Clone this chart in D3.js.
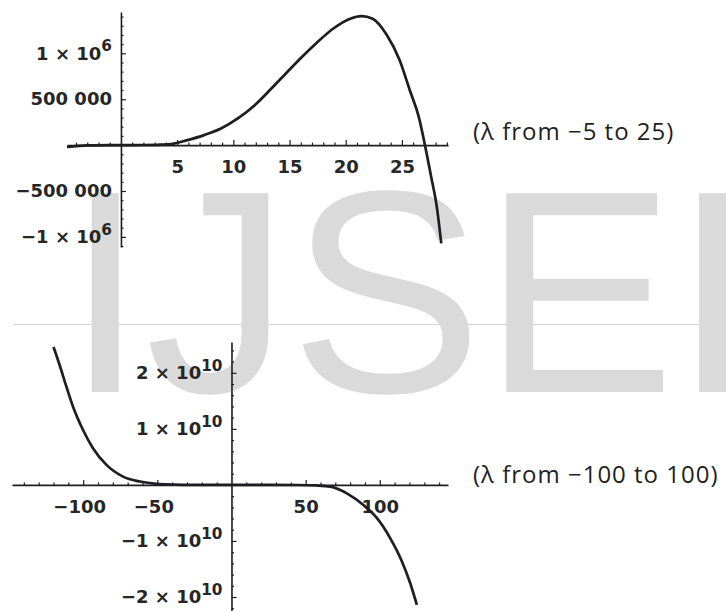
<!DOCTYPE html>
<html>
<head>
<meta charset="utf-8">
<script src="https://cdn.jsdelivr.net/npm/d3@7"></script>
<style>
  html, body { margin: 0; padding: 0; background: #fff; }
  svg { display: block; }
</style>
</head>
<body>
<div id="chart"></div>
<script>
// upper plot (λ from -5 to 25)
const topLambda = [-4.8, -3, -1, 0, 2, 3.5, 4.5, 5.9, 7.4, 8.9, 10.4, 11.9, 13.3, 14.8, 16.1, 17.4, 18.9, 20.4, 21.4, 22.4, 23.6, 24.8, 25.7, 26.5, 27.05, 27.6, 28.1, 28.5];
const topValues = [-20000, -4000, -500, 0, 1000, 5000, 12000, 54000, 109000, 181000, 290000, 435000, 605000, 797000, 960000, 1112000, 1270000, 1377000, 1405000, 1377000, 1210000, 924000, 598000, 308000, 0, -344000, -670000, -1070000];
const topXTicks = [5, 10, 15, 20, 25];
const topXLabels = ["5", "10", "15", "20", "25"];
const topYTicks = [-1e6, -5e5, 5e5, 1e6];
const topYLabels = [["\u22121 \u00d7 10", "6"], ["\u2212500 000", ""], ["500 000", ""], ["1 \u00d7 10", "6"]];
const topCaption = "(\u03bb from \u22125 to 25)";

// lower plot (λ from -100 to 100)
const botLambda = [-120, -115.9, -111.4, -106.9, -100.1, -93.4, -84.3, -73.1, -61.8, -50.5, -39, -25, 0, 25, 45, 57.5, 66.6, 77.8, 89, 98, 107, 115, 120.6, 125];
const botValues = [2.46e10, 2.14e10, 1.76e10, 1.40e10, 0.98e10, 0.655e10, 0.357e10, 0.148e10, 0.06e10, 0.018e10, 0.005e10, 0.001e10, 0, 0, -0.002e10, -0.01e10, -0.03e10, -0.15e10, -0.36e10, -0.59e10, -0.95e10, -1.37e10, -1.76e10, -2.14e10];
const botXTicks = [-100, -50, 50, 100];
const botXLabels = ["\u2212100", "\u221250", "50", "100"];
const botYTicks = [-2e10, -1e10, 1e10, 2e10];
const botYLabels = [["\u22122 \u00d7 10", "10"], ["\u22121 \u00d7 10", "10"], ["1 \u00d7 10", "10"], ["2 \u00d7 10", "10"]];
const botCaption = "(\u03bb from \u2212100 to 100)";

const W = 726, H = 611;
const ink = "#1e1e22";
const tickFont = "'DejaVu Sans', sans-serif";

const svg = d3.select("#chart").append("svg")
    .attr("width", W)
    .attr("height", H);

// watermark + faint scan line behind everything
svg.append("line")
    .attr("x1", 14).attr("x2", W)
    .attr("y1", 324.5).attr("y2", 324.5)
    .attr("stroke", "#d4d4d4")
    .attr("stroke-width", 1);
svg.append("text")
    .attr("x", 65)
    .attr("y", 392)
    .style("font-family", "'Liberation Sans', Arial, sans-serif")
    .style("font-size", "289px")
    .style("fill", "#dadada")
    .text("IJSER");

function drawPlot(cfg) {
    const x = d3.scaleLinear().domain(cfg.xDomain).range(cfg.xRange);
    const y = d3.scaleLinear().domain(cfg.yDomain).range(cfg.yRange);
    const g = svg.append("g");

    // minor ticks first
    const minorX = g.append("g")
        .attr("transform", "translate(0," + y(0) + ")")
        .call(d3.axisBottom(x).tickValues(cfg.minorX).tickSize(-2.5).tickFormat(""));
    minorX.select(".domain").remove();
    const minorY = g.append("g")
        .attr("transform", "translate(" + x(0) + ",0)")
        .call(d3.axisLeft(y).tickValues(cfg.minorY).tickSize(-2.5).tickFormat(""));
    minorY.select(".domain").remove();

    const gx = g.append("g")
        .attr("transform", "translate(0," + y(0) + ")")
        .call(d3.axisBottom(x)
            .tickValues(cfg.xTicks)
            .tickSizeInner(-5)
            .tickSizeOuter(0)
            .tickPadding(15)
            .tickFormat((d, i) => cfg.xLabels[i]));
    gx.selectAll(".tick text").attr("dx", d => d < 0 ? -4 : 0);

    const gy = g.append("g")
        .attr("transform", "translate(" + x(0) + ",0)")
        .call(d3.axisLeft(y)
            .tickValues(cfg.yTicks)
            .tickSizeInner(-5)
            .tickSizeOuter(0)
            .tickPadding(9)
            .tickFormat(""));
    gy.selectAll(".tick text").each(function (d, i) {
        const lab = cfg.yLabels[i];
        const t = d3.select(this).text(lab[0]);
        if (lab[1]) {
            t.append("tspan")
                .attr("dy", "-0.55em")
                .style("font-size", "0.85em")
                .text(lab[1]);
        }
    });

    [minorX, minorY, gx, gy].forEach(a => {
        a.selectAll("line").attr("stroke", ink).attr("stroke-width", 1.2);
        a.selectAll(".domain").attr("stroke", ink).attr("stroke-width", 1.6);
        a.selectAll("text")
            .attr("fill", "#262626")
            .style("font-family", tickFont)
            .style("font-size", "18px")
            .style("font-weight", "bold");
    });

    const line = d3.line()
        .x((d, i) => x(cfg.lambda[i]))
        .y(d => y(d))
        .curve(d3.curveMonotoneX);

    g.append("path")
        .datum(cfg.values)
        .attr("d", line)
        .attr("fill", "none")
        .attr("stroke", ink)
        .attr("stroke-width", 2.7)
        .attr("stroke-linejoin", "round");

    g.append("text")
        .attr("x", 473)
        .attr("y", cfg.captionY)
        .attr("fill", "#1f1f1f")
        .style("font-family", "'Open Sans', sans-serif")
        .style("font-size", "24px")
        .style("letter-spacing", "1px")
        .text(cfg.caption);
}

drawPlot({
    xDomain: [-4.8, 29.1], xRange: [67, 448],
    yDomain: [-1.11e6, 1.45e6], yRange: [247, 12],
    xTicks: topXTicks, xLabels: topXLabels,
    yTicks: topYTicks, yLabels: topYLabels,
    minorX: d3.range(-4, 30, 1).filter(v => v % 5 !== 0),
    minorY: d3.range(-1.1e6, 1.45e6, 1e5).filter(v => Math.round(v / 1e5) % 5 !== 0),
    lambda: topLambda, values: topValues,
    caption: topCaption, captionY: 140
});

drawPlot({
    xDomain: [-148, 146], xRange: [12, 448],
    yDomain: [-2.25e10, 2.55e10], yRange: [611, 342],
    xTicks: botXTicks, xLabels: botXLabels,
    yTicks: botYTicks, yLabels: botYLabels,
    minorX: d3.range(-140, 150, 10).filter(v => v % 50 !== 0),
    minorY: d3.range(-2.2e10, 2.6e10, 2e9).filter(v => Math.round(v / 2e9) % 5 !== 0),
    lambda: botLambda, values: botValues,
    caption: botCaption, captionY: 483
});
</script>
</body>
</html>
